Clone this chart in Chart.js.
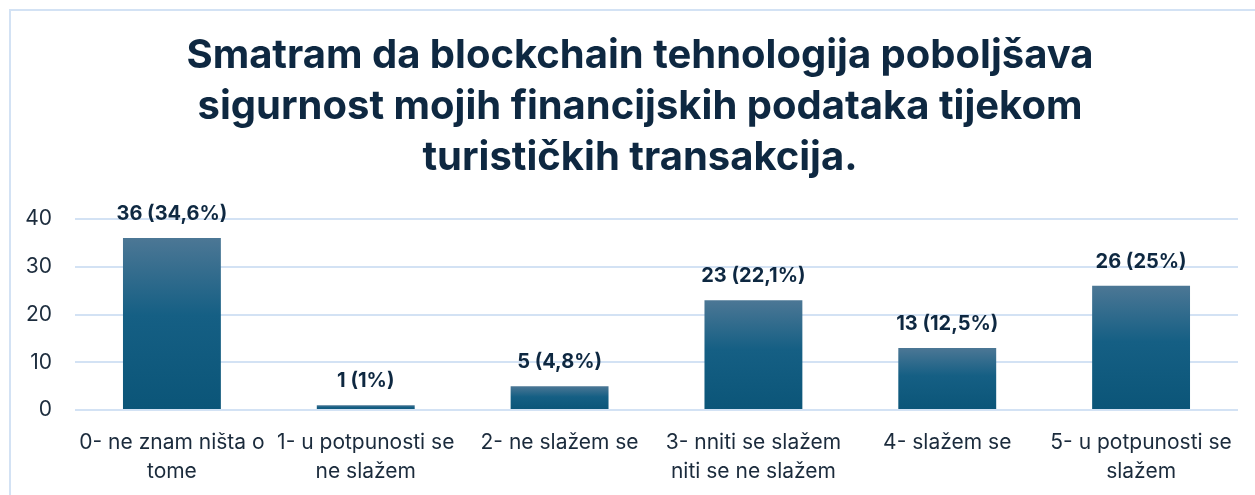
<!DOCTYPE html>
<html>
<head>
<meta charset="utf-8">
<script src="https://cdn.jsdelivr.net/npm/chart.js@4.4.1/dist/chart.umd.min.js"></script>
<style>
  body { margin: 0; background: #fff; overflow: hidden; }
  #frame { position: absolute; left: 9px; top: 9px; width: 1300px; height: 600px;
           border-left: 2px solid #d3e2f4; border-top: 2px solid #d3e2f4; }
  #wrap { position: absolute; left: 0; top: 0; width: 1280px; height: 495px; }
</style>
</head>
<body>
<div id="frame"></div>
<div id="wrap"><canvas id="myChart"></canvas></div>
<script>
// Chart data
var categories = [
    ['0- ne znam ništa o', 'tome'],
    ['1- u potpunosti se', 'ne slažem'],
    ['2- ne slažem se'],
    ['3- nniti se slažem', 'niti se ne slažem'],
    ['4- slažem se'],
    ['5- u potpunosti se', 'slažem']
];
var counts = [36, 1, 5, 23, 13, 26];
var percents = ['34,6%', '1%', '4,8%', '22,1%', '12,5%', '25%'];
var yTicks = [0, 10, 20, 30, 40];

var titleLines = [
    'Smatram da blockchain tehnologija poboljšava',
    'sigurnost mojih financijskih podataka tijekom',
    'turističkih transakcija.'
];

var navy = '#0e2841';

// gradient per bar, from its top to the baseline
function barFill(context) {
    var chart = context.chart;
    var y = chart.scales.y;
    if (!chart.chartArea || !y) {
        return '#135f85';
    }
    var top = y.getPixelForValue(context.raw);
    var bottom = y.getPixelForValue(0);
    if (bottom - top < 1) {
        top = bottom - 1;
    }
    var g = chart.ctx.createLinearGradient(0, top, 0, bottom);
    g.addColorStop(0, '#4c7795');
    g.addColorStop(0.45, '#155f84');
    g.addColorStop(1, '#0b5578');
    return g;
}

var valueLabels = {
    id: 'valueLabels',
    afterDatasetsDraw: function (chart) {
        var ctx = chart.ctx;
        var meta = chart.getDatasetMeta(0);
        ctx.save();
        ctx.font = 'bold 20px Inter';
        ctx.fillStyle = navy;
        ctx.textAlign = 'center';
        ctx.textBaseline = 'middle';
        meta.data.forEach(function (bar, i) {
            ctx.fillText(counts[i] + ' (' + percents[i] + ')', bar.x, bar.y - 24);
        });
        ctx.restore();
    }
};

var ctx = document.getElementById('myChart').getContext('2d');

var myChart = new Chart(ctx, {
    type: 'bar',
    data: {
        labels: categories,
        datasets: [{
            data: counts,
            backgroundColor: barFill,
            borderWidth: 0,
            categoryPercentage: 1,
            barPercentage: 0.505
        }]
    },
    options: {
        responsive: true,
        maintainAspectRatio: false,
        animation: false,
        layout: { padding: 0 },
        plugins: {
            legend: { display: false },
            tooltip: { enabled: false },
            title: {
                display: true,
                text: titleLines,
                color: navy,
                font: { family: 'Inter', size: 40, weight: 'bold', lineHeight: 51 / 40 },
                padding: { top: 30, bottom: 36 }
            }
        },
        scales: {
            x: {
                grid: { display: false, drawTicks: false },
                border: { display: false },
                ticks: {
                    color: '#1b2b3c',
                    font: { family: 'Inter', size: 21, lineHeight: 29 / 21 },
                    padding: 18,
                    maxRotation: 0,
                    autoSkip: false
                },
                afterFit: function (scale) { scale.height = 85; }
            },
            y: {
                min: 0,
                max: 40,
                afterBuildTicks: function (scale) {
                    scale.ticks = yTicks.map(function (v) { return { value: v }; });
                },
                grid: { color: '#d3e2f4', lineWidth: 2, drawTicks: false },
                border: { display: false },
                ticks: {
                    color: '#1b2b3c',
                    font: { family: 'Inter', size: 21 },
                    padding: 23
                },
                afterFit: function (scale) { scale.width = 75; }
            },
            // empty right-hand margin so the title stays centred on the frame
            yRight: {
                position: 'right',
                grid: { display: false, drawTicks: false },
                border: { display: false },
                ticks: { display: false },
                afterFit: function (scale) { scale.width = 42; }
            }
        }
    },
    plugins: [valueLabels]
});
</script>
</body>
</html>
